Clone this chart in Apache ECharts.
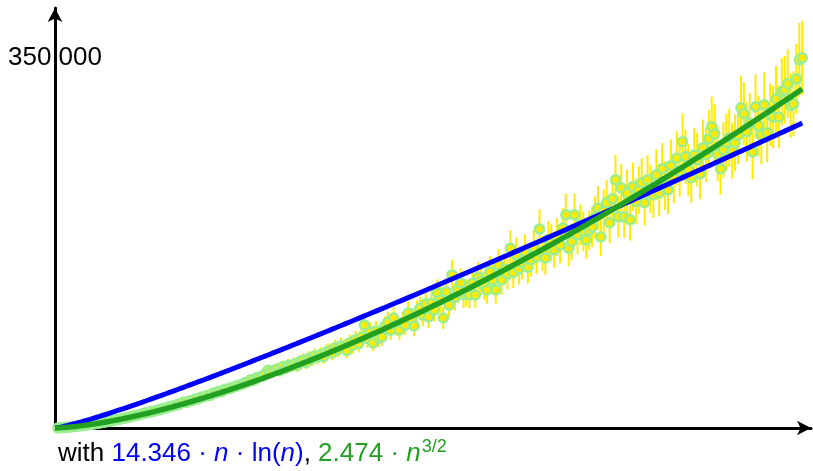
<!DOCTYPE html>
<html>
<head>
<meta charset="utf-8">
<script src="https://cdn.jsdelivr.net/npm/echarts@6/dist/echarts.min.js"></script>
<style>
  html, body { margin: 0; padding: 0; background: #fff; }
  #chart { width: 813px; height: 471px; }
</style>
</head>
<body>
<div id="chart"></div>
<script>
  // measured times in thousands, one point every nStep elements (n = 10 .. 2560)
  const nStep = 10;
  const timeK = [
    0.08, 0.23, 0.40, 0.66, 0.85, 1.2, 1.4, 1.8, 2.2, 2.4,
    2.9, 3.4, 3.6, 4.3, 4.5, 5.2, 5.4, 6.2, 6.4, 7.3,
    7.8, 8.0, 9.0, 9.3, 10.2, 10.6, 11.5, 11.9, 12.5, 13.4,
    14.2, 14.6, 15.5, 15.9, 16.9, 17.3, 18.5, 18.9, 19.8, 20.4,
    21.4, 21.9, 23.2, 24.5, 24.2, 25.6, 25.9, 27.3, 27.5, 29.0,
    29.6, 30.8, 30.5, 32.9, 33.1, 34.6, 34.2, 36.5, 36.9, 37.4,
    38.6, 39.5, 40.5, 41.2, 42.8, 43.5, 45.6, 44.9, 47.5, 48.2,
    49.0, 51.2, 54.6, 53.0, 54.5, 55.8, 54.1, 57.9, 56.2, 59.4,
    58.5, 60.6, 59.0, 62.8, 64.1, 62.0, 66.0, 65.1, 68.4, 67.0,
    69.5, 67.5, 71.8, 72.9, 71.0, 75.9, 74.0, 77.5, 76.2, 73.4,
    80.5, 78.0, 83.5, 79.8, 86.0, 97.4, 84.5, 90.8, 80.5, 92.0,
    85.0, 86.0, 96.0, 100.0, 92.5, 104.0, 97.0, 92.7, 99.5, 97.4,
    108.5, 103.0, 96.5, 109.7, 113.0, 107.0, 117.5, 105.0, 118.0, 111.6,
    127.7, 121.0, 104.0, 128.7, 116.0, 144.7, 123.5, 131.0, 137.0, 126.0,
    127.7, 125.8, 136.5, 125.8, 142.8, 139.0, 134.5, 130.5, 147.6, 140.0,
    130.5, 154.0, 140.0, 150.0, 145.5, 170.0, 147.0, 163.7, 150.5, 156.0,
    166.5, 152.0, 159.0, 170.5, 161.8, 188.0, 165.0, 160.8, 178.0, 175.0,
    168.4, 180.5, 173.0, 189.0, 201.5, 170.0, 176.0, 201.5, 182.6, 192.0,
    186.0, 177.8, 187.0, 190.0, 199.0, 208.0, 180.7, 205.0, 212.9, 194.0,
    216.6, 234.6, 199.6, 227.0, 199.6, 222.0, 196.8, 228.0, 214.0, 225.0,
    231.8, 212.9, 234.6, 226.0, 220.5, 239.3, 222.3, 245.0, 229.0, 225.0,
    248.0, 236.0, 255.0, 243.0, 270.6, 256.4, 244.0, 236.5, 258.0, 253.5,
    240.3, 265.0, 258.3, 273.4, 284.7, 278.0, 259.0, 245.0, 263.0, 270.0,
    274.3, 262.0, 269.6, 277.0, 302.7, 297.0, 280.0, 288.0, 261.0, 303.7,
    285.7, 277.0, 305.6, 279.0, 296.0, 294.0, 311.0, 294.0, 317.9, 319.7,
    325.4, 304.6, 306.5, 330.0, 348.0, 350.0
  ];
  // error bar half-lengths, thousands
  const errK = [
    0.01, 0.02, 0.04, 0.06, 0.08, 0.1, 0.13, 0.16, 0.2, 0.22,
    0.3, 0.3, 0.35, 0.4, 0.4, 0.5, 0.5, 0.6, 0.6, 0.7,
    0.7, 0.8, 0.9, 0.9, 1.0, 1.0, 1.1, 1.1, 1.2, 1.3,
    1.3, 1.4, 1.5, 1.5, 1.6, 1.7, 1.8, 1.8, 1.9, 2.0,
    2.0, 2.1, 2.2, 2.4, 2.3, 2.5, 2.5, 2.7, 2.6, 2.9,
    2.8, 3.0, 3.0, 3.2, 3.3, 3.4, 3.3, 3.6, 3.6, 3.7,
    3.8, 3.9, 4.0, 4.1, 4.3, 4.3, 4.6, 4.4, 4.7, 4.8,
    4.9, 5.1, 5.5, 5.3, 5.4, 5.6, 5.4, 5.8, 5.6, 5.9,
    5.8, 6.1, 5.9, 6.3, 6.4, 6.2, 6.6, 6.5, 6.8, 6.7,
    7.0, 6.8, 7.2, 7.3, 7.1, 7.6, 7.4, 7.8, 7.6, 7.3,
    8.0, 7.8, 8.4, 8.0, 8.6, 9.7, 8.5, 9.1, 8.0, 9.2,
    8.5, 8.6, 9.6, 10.0, 9.3, 10.4, 9.7, 9.3, 10.0, 9.7,
    10.8, 10.3, 9.7, 11.0, 11.3, 10.7, 11.8, 10.5, 11.8, 11.2,
    12.8, 12.1, 10.4, 12.9, 11.6, 14.5, 12.4, 13.1, 13.7, 12.6,
    12.8, 12.6, 13.7, 12.6, 14.3, 13.9, 13.5, 13.0, 14.8, 14.0,
    13.0, 15.4, 14.0, 15.0, 14.6, 17.0, 14.7, 16.4, 15.0, 15.6,
    16.6, 15.2, 15.9, 17.0, 16.2, 18.8, 16.5, 16.1, 17.8, 17.5,
    16.8, 18.0, 17.3, 18.9, 20.1, 17.0, 17.6, 20.1, 18.3, 19.2,
    18.6, 17.8, 18.7, 19.0, 19.9, 20.8, 18.1, 20.5, 21.3, 19.4,
    21.7, 23.5, 20.0, 22.7, 20.0, 22.2, 19.7, 22.8, 21.4, 22.5,
    23.2, 21.3, 23.5, 22.6, 22.0, 23.9, 22.2, 24.5, 22.9, 22.5,
    24.8, 23.6, 25.5, 24.3, 27.0, 25.6, 24.4, 23.7, 25.8, 25.4,
    24.0, 26.5, 25.8, 27.3, 28.5, 27.8, 25.9, 24.5, 26.3, 27.0,
    27.4, 26.2, 27.0, 27.7, 30.3, 29.7, 28.0, 28.8, 26.1, 30.4,
    28.6, 27.7, 30.6, 27.9, 29.6, 29.4, 31.1, 29.4, 31.8, 32.0,
    32.5, 30.5, 30.6, 33.0, 34.8, 35.0
  ];
  // fitted coefficients shown under the chart
  const coefNLogN = 14.346;
  const coefN32 = 2.474;
  const yLabelValues = [350000];

  const blue = '#0000ff';
  const green = '#22a022';
  const font = 'Liberation Sans';

  const sizes = timeK.map((v, i) => (i + 1) * nStep);
  const points = sizes.map((n, i) => [n, timeK[i] * 1000]);
  const bars = sizes.map((n, i) => [n, (timeK[i] - errK[i]) * 1000, (timeK[i] + errK[i]) * 1000]);
  const fitA = [[0, 0]].concat(sizes.map(n => [n, coefNLogN * n * Math.log(n)]));
  const fitB = [[0, 0]].concat(sizes.map(n => [n, coefN32 * Math.pow(n, 1.5)]));

  const txt = (color, extra) => Object.assign({ color: color, fontSize: 26, fontWeight: 'normal', fontFamily: font }, extra);

  const chart = echarts.init(document.getElementById('chart'));
  chart.setOption({
    animation: false,
    title: {
      left: 53,
      top: 433,
      text: '{k|with }{b|14.346 · }{bi|n}{b| · ln(}{bi|n}{b|)}{k|, }{g|2.474 · }{gi|n}{sup|3/2}',
      textStyle: {
        fontWeight: 'normal',
        rich: {
          k: txt('#000'),
          b: txt(blue),
          bi: txt(blue, { fontStyle: 'italic' }),
          g: txt(green),
          gi: txt(green, { fontStyle: 'italic' }),
          sup: txt(green, { fontSize: 18, padding: [0, 0, 14, 1] })
        }
      }
    },
    grid: { left: 55, top: 8, width: 756, height: 420 },
    xAxis: {
      type: 'value',
      min: 0,
      max: 2590,
      axisLine: { show: true, lineStyle: { color: '#000', width: 3 }, symbol: ['none', 'arrow'], symbolSize: [11, 14] },
      axisTick: { show: false },
      axisLabel: { show: false },
      splitLine: { show: false }
    },
    yAxis: {
      type: 'value',
      min: 0,
      max: 397000,
      axisLine: { show: true, lineStyle: { color: '#000', width: 3 }, symbol: ['none', 'arrow'], symbolSize: [11, 14] },
      axisTick: { show: false },
      splitLine: { show: false },
      axisLabel: {
        customValues: yLabelValues,
        align: 'center',
        margin: 0,
        color: '#000',
        fontSize: 26,
        fontFamily: font,
        formatter: v => String(v).replace(/\B(?=(\d{3})+(?!\d))/g, ' ')
      }
    },
    series: [
      {
        name: 'err',
        type: 'custom',
        data: bars,
        encode: { x: 0, y: [1, 2] },
        renderItem: (params, api) => {
          const lo = api.coord([api.value(0), api.value(1)]);
          const hi = api.coord([api.value(0), api.value(2)]);
          return {
            type: 'line',
            shape: { x1: lo[0], y1: lo[1], x2: hi[0], y2: hi[1] },
            style: { stroke: '#ffea00', lineWidth: 2 }
          };
        },
        z: 1
      },
      {
        name: 'time',
        type: 'scatter',
        data: points,
        symbolSize: 9,
        itemStyle: { color: '#ffea00', borderColor: '#98ee90', borderWidth: 2.5, opacity: 1 },
        z: 2
      },
      {
        name: 'n ln n',
        type: 'line',
        data: fitA,
        showSymbol: false,
        lineStyle: { color: blue, width: 5 },
        z: 3
      },
      {
        name: 'n^3/2',
        type: 'line',
        data: fitB,
        showSymbol: false,
        lineStyle: { color: green, width: 5.5 },
        z: 4
      }
    ]
  });
</script>
</body>
</html>
